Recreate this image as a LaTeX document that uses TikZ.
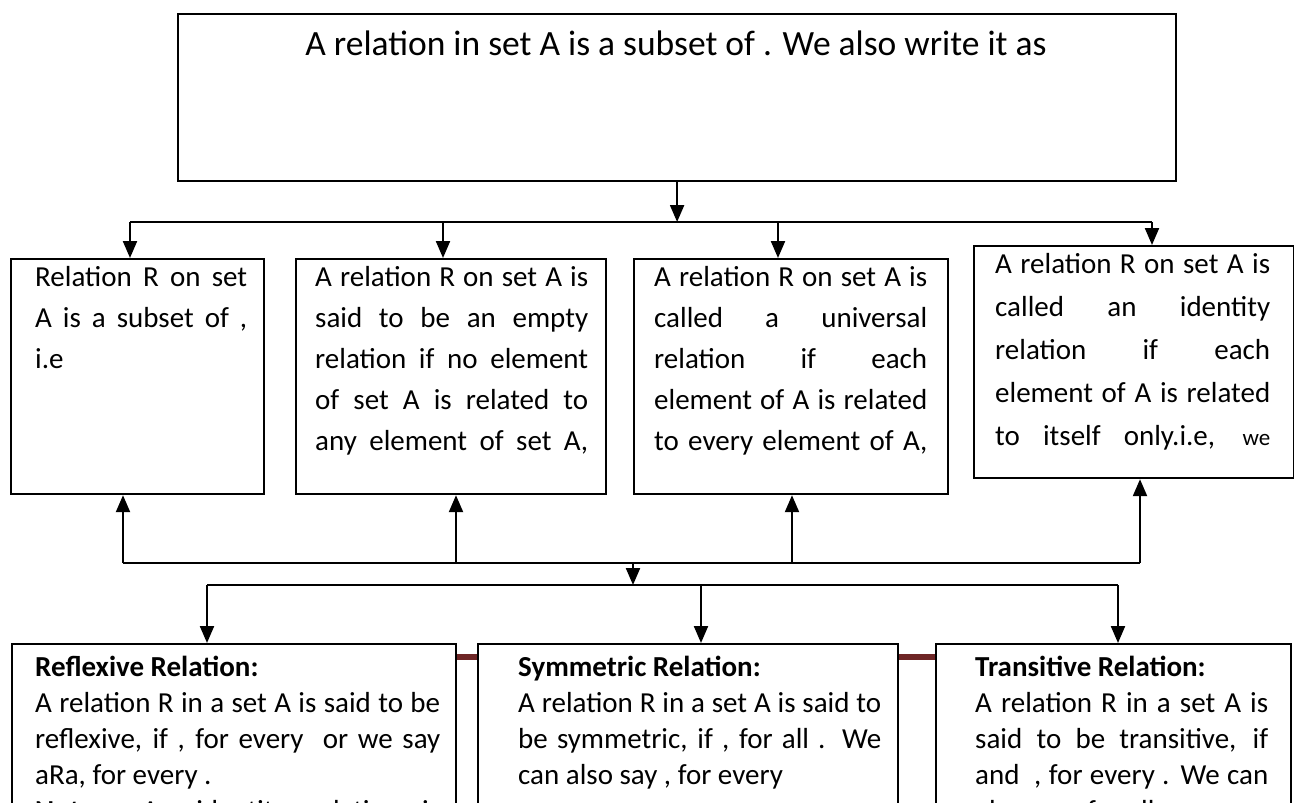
\documentclass[tikz,border=0pt]{standalone}
\usepackage{fontspec}
\setmainfont{Carlito}
\usetikzlibrary{arrows.meta}

\newcommand{\jl}[1]{\makebox[\lw][s]{#1}}
\definecolor{barred}{RGB}{110,38,38}

\begin{document}
\begin{tikzpicture}[x=1pt,y=-1pt,
    box/.style={draw, line width=2.2pt, anchor=north west, inner sep=0pt},
    col/.style={text width=#1, execute at begin node={\def\lw{#1}}},
    txt/.style={anchor=north west, inner sep=0pt, align=justify, font=\fontsize{29}{41}\selectfont},
    lowtxt/.style={txt, font=\fontsize{29}{36}\selectfont},
    line/.style={line width=2.2pt},
    arr/.style={line width=2.2pt, -{Triangle[width=14pt,length=17pt]}},
    bar/.style={line width=6pt, barred}]
\useasboundingbox (0,0) rectangle (1294,803);

% top box
\node[box, minimum width=998pt, minimum height=167pt] (top) at (177,13) {};
\node[font=\fontsize{35.5}{40}\selectfont] (toptext) at (676,43) {A relation in set A is a subset of . We also write it as};

% middle row
\node[box, minimum width=253pt, minimum height=235pt] (r1) at (10,258) {};
\node[box, minimum width=310pt, minimum height=235pt] (r2) at (295,258) {};
\node[box, minimum width=314pt, minimum height=235pt] (r3) at (633,258) {};
\node[box, minimum width=320pt, minimum height=232pt] (r4) at (973,245) {};

\node[txt, col=212pt] (t1) at ([shift={(25,8)}]r1.north west) {%
  \jl{Relation R on set}\\\jl{A is a subset of ,}\\i.e};
\node[txt, col=273pt] (t2) at ([shift={(20,8)}]r2.north west) {%
  \jl{A relation R on set A is}\\\jl{said to be an empty}\\\jl{relation if no element}\\
  \jl{of set A is related to}\\\jl{any element of set A,}};
\node[txt, col=273pt] (t3) at ([shift={(21,8)}]r3.north west) {%
  \jl{A relation R on set A is}\\\jl{called a universal}\\\jl{relation if each}\\
  \jl{element of A is related}\\\jl{to every element of A,}};
\node[txt, col=275pt, font=\fontsize{29}{43}\selectfont] (t4) at ([shift={(22,8)}]r4.north west) {%
  \jl{A relation R on set A is}\\\jl{called an identity}\\\jl{relation if each}\\
  \jl{element of A is related}\\\jl{to itself only.i.e, {\fontsize{23}{26}\selectfont we}}};

% bottom row
\node[box, minimum width=444pt, minimum height=190pt] (p1) at (11,643) {};
\node[box, minimum width=420pt, minimum height=190pt] (p2) at (477,643) {};
\node[box, minimum width=355pt, minimum height=190pt] (p3) at (935,643) {};

\node[lowtxt, col=405pt] (s1) at ([shift={(24,13)}]p1.north west) {%
  \textbf{Reflexive Relation:}\\\jl{A relation R in a set A is said to be}\\
  \jl{reflexive, if , for every \ or we say}\\aRa, for every .\\
  \jl{\textbf{Note}: An identity relation is}};
\node[lowtxt, col=363pt] (s2) at ([shift={(41,13)}]p2.north west) {%
  \textbf{Symmetric Relation:}\\\jl{A relation R in a set A is said to}\\
  \jl{be symmetric, if , for all . We}\\can also say , for every};
\node[lowtxt, col=293pt] (s3) at ([shift={(40,13)}]p3.north west) {%
  \textbf{Transitive Relation:}\\\jl{A relation R in a set A is}\\
  \jl{said to be transitive, if}\\\jl{and \ , for every . We can}\\also say , for all};

% top split
\coordinate (d1) at (130,222);
\coordinate (d2) at (443,222);
\coordinate (d3) at (778,222);
\coordinate (d4) at (1152,222);
\draw[arr] (top.south) -- (top.south |- d1);
\draw[line] (d1) -- (d4);
\foreach \i in {1,...,4}
  \draw[arr] (d\i) -- (d\i |- r\i.north);

% joining arrows
\coordinate (u1) at (123,563);
\coordinate (u2) at (456,563);
\coordinate (u3) at (792,563);
\coordinate (u4) at (1140,563);
\draw[line] (u1) -- (u4);
\foreach \i in {1,...,4}
  \draw[arr] (u\i) -- (u\i |- r\i.south);

\coordinate (mid) at (633,563);
\coordinate (e1) at (207,585);
\coordinate (e2) at (701,585);
\coordinate (e3) at (1118,585);
\draw[arr] (mid) -- (mid |- e1);
\draw[line] (e1) -- (e3);
\foreach \i in {1,2,3}
  \draw[arr] (e\i) -- (e\i |- p\i.north);

% dark red bars between boxes
\draw[bar] ([yshift=-14pt]p1.north east) -- ([yshift=-14pt]p2.north west);
\draw[bar] ([yshift=-14pt]p2.north east) -- ([yshift=-14pt]p3.north west);
\end{tikzpicture}
\end{document}
